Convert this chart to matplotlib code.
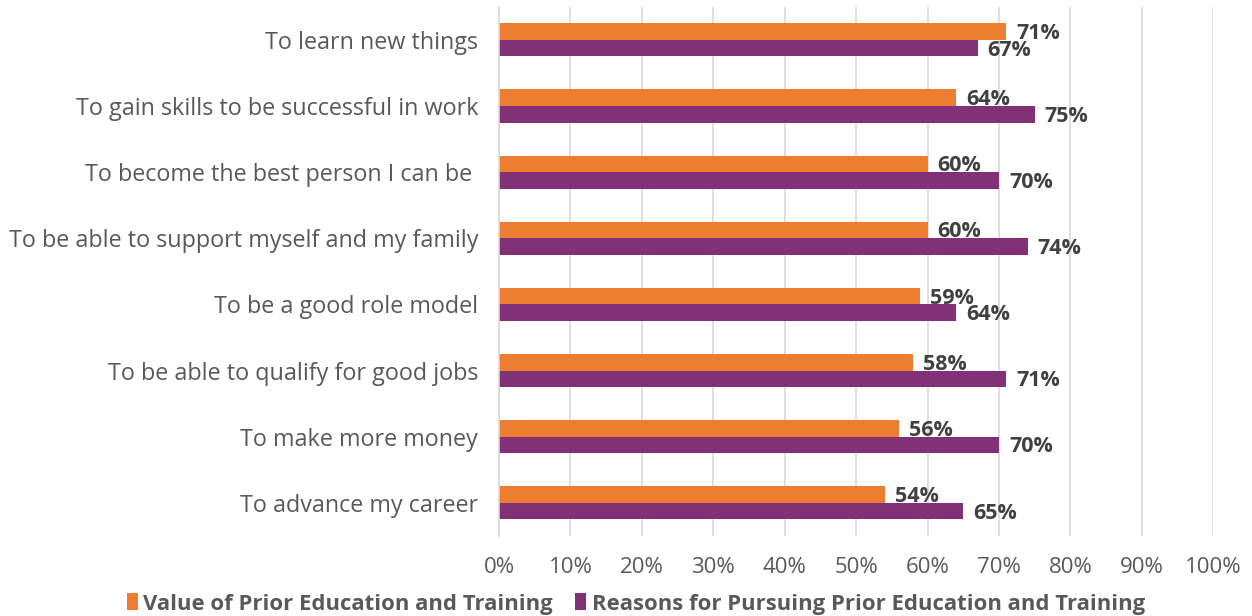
import numpy as np
import matplotlib.pyplot as plt

# data
reasons = ["To learn new things",
           "To gain skills to be successful in work",
           "To become the best person I can be ",
           "To be able to support myself and my family",
           "To be a good role model",
           "To be able to qualify for good jobs",
           "To make more money",
           "To advance my career"]
value_prior = [71, 64, 60, 60, 59, 58, 56, 54]
reasons_pursuing = [67, 75, 70, 74, 64, 71, 70, 65]
ticks = [0, 10, 20, 30, 40, 50, 60, 70, 80, 90, 100]

orange = "#ED7D31"
purple = "#833177"

plt.rcParams['font.family'] = ['Open Sans', 'DejaVu Sans']

fig = plt.figure(figsize=(12.52, 6.16), dpi=100)
ax = fig.add_axes([0.3986, 0.130, 0.5704, 0.859])

y = np.arange(len(reasons))
h = 0.25
b1 = ax.barh(y - h/2, value_prior, height=h, color=orange, label="Value of Prior Education and Training")
b2 = ax.barh(y + h/2, reasons_pursuing, height=h, color=purple, label="Reasons for Pursuing Prior Education and Training")

for bars, vals in [(b1, value_prior), (b2, reasons_pursuing)]:
    for bar, v in zip(bars, vals):
        ax.text(v + 1.4, bar.get_y() + bar.get_height()/2 + 0.03, f"{v}%",
                va="center", ha="left", fontsize=15.5, fontweight="bold", color="#404040")

ax.set_xlim(0, 100)
ax.set_ylim(len(reasons) - 0.5, -0.5)
ax.set_yticks(y)
ax.set_yticklabels(reasons, fontsize=16.8, color="#595959")
ax.set_xticks(ticks)
ax.set_xticklabels([f"{t}%" for t in ticks], fontsize=16, color="#595959")
ax.tick_params(axis="both", length=0)
ax.tick_params(axis="y", pad=15)
ax.tick_params(axis="x", pad=15)

ax.grid(axis="x", color="#D9D9D9", linewidth=1.2)
ax.set_axisbelow(True)
for s in ["top", "right", "bottom"]:
    ax.spines[s].set_visible(False)
ax.spines["left"].set_color("#D9D9D9")
ax.spines["left"].set_linewidth(1.2)

leg = fig.legend(handles=[b1, b2], loc="lower center", bbox_to_anchor=(0.508, -0.03),
                 ncol=2, frameon=False, handlelength=0.5, handleheight=0.8,
                 handletextpad=0.25, columnspacing=1.0,
                 prop={'size': 15.9, 'weight': 'bold'})
for t in leg.get_texts():
    t.set_color("#595959")

fig.savefig("out.png", dpi=100)
